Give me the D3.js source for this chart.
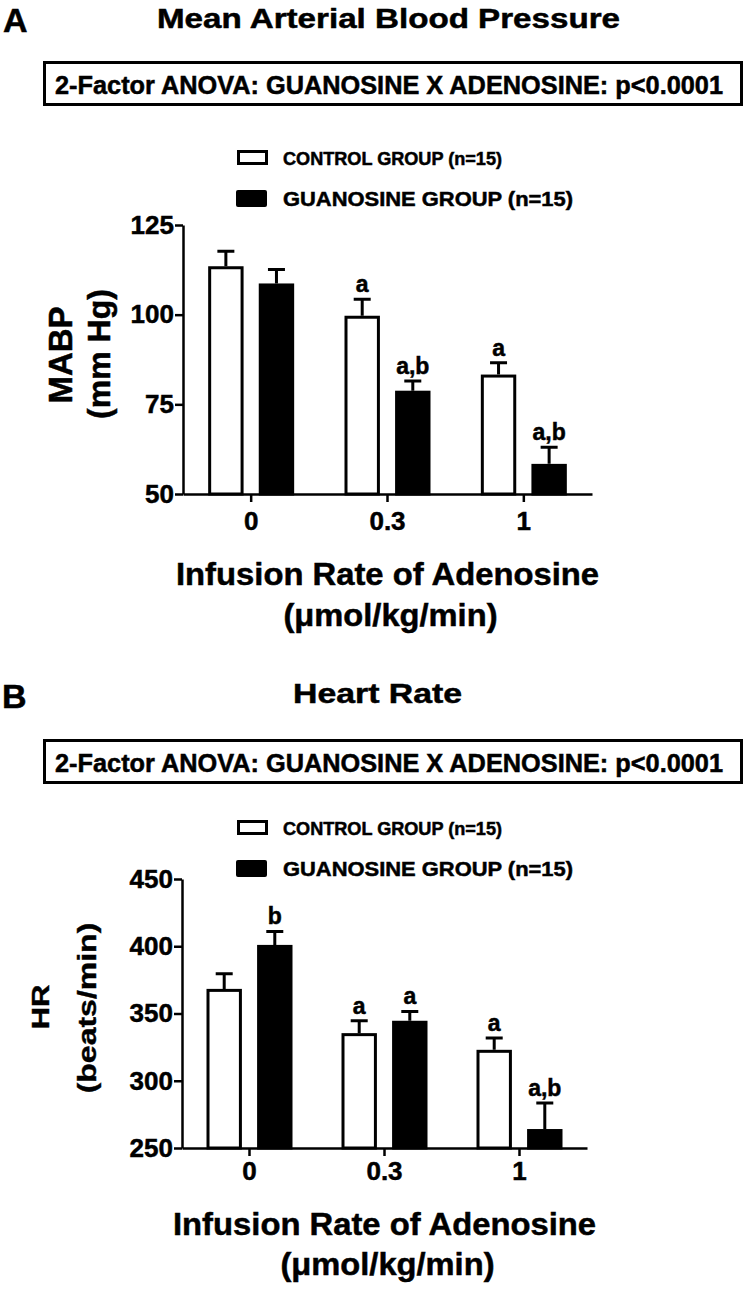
<!DOCTYPE html>
<html>
<head>
<meta charset="utf-8">
<script src="https://cdn.jsdelivr.net/npm/d3@7"></script>
<style>
body { margin: 0; background: #fff; }
text { font-family: "Liberation Sans", Arial, sans-serif; font-weight: bold; fill: #000; stroke: #000; stroke-width: 0.5px; }
</style>
</head>
<body>
<svg id="fig" width="746" height="1289"></svg>
<script>
var rates = ["0", "0.3", "1"];
var groups = ["control", "guanosine"];

// panel A: mean arterial blood pressure (mm Hg)
var mabpTicks = [50, 75, 100, 125];
var mabpControl = [113.5, 99.7, 83.3];
var mabpControlSem = [4.2, 4.6, 3.3];
var mabpGuano = [108.7, 78.8, 58.4];
var mabpGuanoSem = [3.9, 2.7, 4.6];
var mabpControlSig = ["", "a", "a"];
var mabpGuanoSig = ["", "a,b", "a,b"];

// panel B: heart rate (beats/min)
var hrTicks = [250, 300, 350, 400, 450];
var hrControl = [368.3, 335.4, 323.0];
var hrControlSem = [11.2, 9.2, 8.7];
var hrGuano = [401.0, 344.6, 264.1];
var hrGuanoSem = [10.0, 6.9, 19.3];
var hrControlSig = ["", "a", "a"];
var hrGuanoSig = ["b", "a", "a,b"];

var anovaText = "2-Factor ANOVA: GUANOSINE X ADENOSINE: p<0.0001";
var legendLabels = ["CONTROL GROUP (n=15)", "GUANOSINE GROUP (n=15)"];

var svg = d3.select("#fig");

function label(x, y, str, size, anchor, len) {
  var t = svg.append("text")
      .attr("x", x)
      .attr("y", y)
      .attr("font-size", size)
      .attr("text-anchor", anchor || "start")
      .text(str);
  if (len) t.attr("textLength", len).attr("lengthAdjust", "spacingAndGlyphs");
  return t;
}

function vlabel(x, y, str, size, sx) {
  svg.append("text")
      .attr("transform", "translate(" + x + "," + y + ") scale(" + sx + ",1) rotate(-90)")
      .attr("font-size", size)
      .attr("text-anchor", "middle")
      .text(str);
}

function header(p) {
  label(p.letterX, p.letterY, p.letter, 34);
  label(p.titleX, p.titleY, p.title, 28, "start", p.titleLen);

  svg.append("rect")
      .attr("x", 44.5).attr("y", p.boxTop)
      .attr("width", 697).attr("height", 42)
      .attr("fill", "none").attr("stroke", "#000").attr("stroke-width", 3);
  label(55, p.boxTop + 31, anovaText, 25, "start", 668);

  // legend
  svg.append("rect")
      .attr("x", 238.5).attr("y", p.legTop + 1.5)
      .attr("width", 28).attr("height", 12)
      .attr("fill", "#fff").attr("stroke", "#000").attr("stroke-width", 3);
  label(283, p.legTop + 15, legendLabels[0], 18, "start", 219);
  svg.append("rect")
      .attr("x", 236).attr("y", p.legTop + 40)
      .attr("width", 31).attr("height", 17).attr("rx", 2)
      .attr("fill", "#000");
  label(283, p.legTop + 56, legendLabels[1], 20, "start", 290);
}

function drawPanel(p) {
  var x = d3.scaleBand().domain(rates).range([p.left, p.right]);
  var xIn = d3.scaleBand().domain(groups).range([-43, 43]).paddingInner(0.3);
  var y = d3.scaleLinear().domain(p.domain).range([p.bottom, p.top]);

  var rows = [];
  rates.forEach(function(r, i) {
    rows.push({rate: r, group: "control", v: p.control[i], sem: p.controlSem[i], sig: p.controlSig[i]});
    rows.push({rate: r, group: "guanosine", v: p.guano[i], sem: p.guanoSem[i], sig: p.guanoSig[i]});
  });
  function cx(d) { return x(d.rate) + x.bandwidth() / 2 + xIn(d.group) + xIn.bandwidth() / 2; }

  var g = svg.append("g");

  // error bars (upper only)
  g.selectAll(".err")
      .data(rows)
    .enter().append("path")
      .attr("class", "err")
      .attr("fill", "none")
      .attr("stroke", "#000")
      .attr("stroke-width", 3)
      .attr("d", function(d) {
        var top = y(d.v + d.sem);
        return "M" + cx(d) + "," + y(d.v) + "V" + top + "M" + (cx(d) - 8.5) + "," + top + "H" + (cx(d) + 8.5);
      });

  g.selectAll(".bar")
      .data(rows)
    .enter().append("rect")
      .attr("class", "bar")
      .attr("x", function(d) { return x(d.rate) + x.bandwidth() / 2 + xIn(d.group) + 1.5; })
      .attr("y", function(d) { return y(d.v) + 1.5; })
      .attr("width", xIn.bandwidth() - 3)
      .attr("height", function(d) { return y(p.domain[0]) - y(d.v) - 1.5; })
      .attr("fill", function(d) { return d.group === "control" ? "#fff" : "#000"; })
      .attr("stroke", "#000")
      .attr("stroke-width", 3);

  g.selectAll(".sig")
      .data(rows.filter(function(d) { return d.sig; }))
    .enter().append("text")
      .attr("class", "sig")
      .attr("x", cx)
      .attr("y", function(d) { return y(d.v + d.sem) - 7; })
      .attr("text-anchor", "middle")
      .attr("font-size", 23)
      .text(function(d) { return d.sig; });

  var ya = svg.append("g")
      .attr("transform", "translate(" + p.left + ",0)")
      .call(d3.axisLeft(y).tickValues(p.ticks).tickSize(8).tickSizeOuter(0).tickPadding(1));
  var xa = svg.append("g")
      .attr("transform", "translate(0," + p.bottom + ")")
      .call(d3.axisBottom(x).tickSize(8).tickSizeOuter(0).tickPadding(p.xPad));
  [ya, xa].forEach(function(a) {
    a.selectAll("path, line").attr("stroke", "#000").attr("stroke-width", 2.5);
    a.selectAll("text")
        .attr("font-size", 26)
        .attr("font-family", "Liberation Sans, Arial, sans-serif")
        .attr("font-weight", "bold")
        .attr("fill", "#000");
  });

  vlabel(p.yl1[0], p.yl1[1], p.yTitle[0], p.yl1[2], p.ysx);
  vlabel(p.yl2[0], p.yl2[1], p.yTitle[1], p.yl2[2], p.ysx);

  var mid = (p.left + p.right) / 2;
  label(mid, p.xt1, "Infusion Rate of Adenosine", 32, "middle", 423);
  label(mid + 3, p.xt2, "(\u03bcmol/kg/min)", 32, "middle", 214);
}

header({letter: "A", letterX: 3, letterY: 32, title: "Mean Arterial Blood Pressure",
  titleX: 157, titleY: 28, titleLen: 463, boxTop: 62.5, legTop: 150});
drawPanel({left: 183, right: 592, top: 225, bottom: 494, domain: [50, 125], ticks: mabpTicks,
  control: mabpControl, controlSem: mabpControlSem, controlSig: mabpControlSig,
  guano: mabpGuano, guanoSem: mabpGuanoSem, guanoSig: mabpGuanoSig,
  xPad: 9.5, yTitle: ["MABP", "(mm Hg)"], yl1: [72, 355, 33], yl2: [110, 354, 32], ysx: 1,
  xt1: 585, xt2: 626});

header({letter: "B", letterX: 2, letterY: 708, title: "Heart Rate",
  titleX: 293, titleY: 703, titleLen: 169, boxTop: 740.5, legTop: 820});
drawPanel({left: 182, right: 587, top: 879, bottom: 1148, domain: [250, 450], ticks: hrTicks,
  control: hrControl, controlSem: hrControlSem, controlSig: hrControlSig,
  guano: hrGuano, guanoSem: hrGuanoSem, guanoSig: hrGuanoSig,
  xPad: 5.5, yTitle: ["HR", "(beats/min)"], yl1: [49, 1007, 31], yl2: [96, 1008, 32], ysx: 0.78,
  xt1: 1235, xt2: 1275});
</script>
</body>
</html>
